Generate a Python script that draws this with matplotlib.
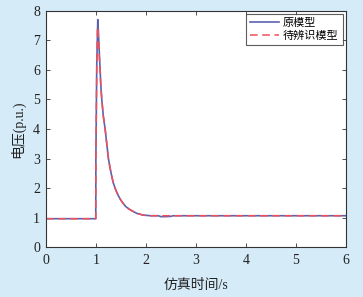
import matplotlib
matplotlib.use("Agg")
import matplotlib.pyplot as plt

# Data
t_orig = [0.0, 1.0, 1.002, 1.02, 1.04, 1.055, 1.07, 1.087, 1.10, 1.12, 1.15, 1.187, 1.22,
          1.253, 1.29, 1.32, 1.35, 1.387, 1.42, 1.45, 1.49, 1.52, 1.56, 1.60, 1.66, 1.72,
          1.82, 1.95, 2.1, 2.25, 2.3, 2.4, 2.5, 2.55, 3.0, 6.0]
v_orig = [0.97, 0.97, 3.0, 6.2, 7.7, 7.2, 6.6, 6.0, 5.5, 5.0, 4.45, 4.0, 3.5,
          3.0, 2.65, 2.4, 2.18, 2.0, 1.86, 1.75, 1.63, 1.55, 1.46, 1.38, 1.30, 1.24,
          1.15, 1.09, 1.07, 1.07, 1.04, 1.04, 1.05, 1.07, 1.07, 1.07]

t_ident = [0.0, 1.0, 1.002, 1.02, 1.035, 1.055, 1.07, 1.087, 1.10, 1.12, 1.15, 1.187, 1.22,
           1.253, 1.29, 1.32, 1.35, 1.387, 1.42, 1.45, 1.49, 1.52, 1.56, 1.60, 1.66, 1.72,
           1.82, 1.95, 2.1, 3.0, 6.0]
v_ident = [0.97, 0.97, 3.0, 6.1, 7.45, 7.0, 6.5, 5.95, 5.5, 5.0, 4.45, 4.0, 3.5,
           3.0, 2.65, 2.4, 2.18, 2.0, 1.86, 1.75, 1.63, 1.55, 1.46, 1.38, 1.30, 1.24,
           1.15, 1.09, 1.07, 1.07, 1.07]

series_labels = ["原模型", "待辨识模型"]
x_ticks = [0, 1, 2, 3, 4, 5, 6]
y_ticks = [0, 1, 2, 3, 4, 5, 6, 7, 8]

fonts = ["Liberation Serif", "Noto Sans CJK SC", "DejaVu Sans"]
plt.rcParams["font.family"] = fonts

bg = "#d5ebf8"
fig = plt.figure(figsize=(3.63, 2.97), dpi=100, facecolor=bg)
ax = fig.add_axes([0.126, 0.167, 0.827, 0.797])
ax.set_facecolor("white")

ax.plot(t_orig, v_orig, color="#5b63b0", lw=1.2, label=series_labels[0])
ax.plot(t_ident, v_ident, color="#f0505a", lw=1.1, ls=(0, (5, 3)), label=series_labels[1])

ax.set_xlim(0, 6)
ax.set_ylim(0, 8)
ax.set_xticks(x_ticks)
ax.set_yticks(y_ticks)
ax.tick_params(direction="in", top=True, right=True, labelsize=10, length=3,
               width=0.6, color="#333333", labelcolor="#222222")
ax.tick_params(axis="x", pad=5)
ax.tick_params(axis="y", pad=4)
for s in ax.spines.values():
    s.set_linewidth(0.8)
    s.set_color("#333333")

ax.set_xlabel("仿真时间/s", fontsize=10, color="#222222", labelpad=8)
ax.set_ylabel("电压(p.u.)", fontsize=10, color="#222222", labelpad=6)

leg = ax.legend(loc="upper right", fontsize=8, frameon=True, fancybox=False,
                edgecolor="#333333", handlelength=2.6, borderpad=0.35,
                labelspacing=0.25, handletextpad=0.4, borderaxespad=0.3)
leg.get_frame().set_linewidth(0.8)

fig.savefig("out.png", dpi=100, facecolor=bg)
